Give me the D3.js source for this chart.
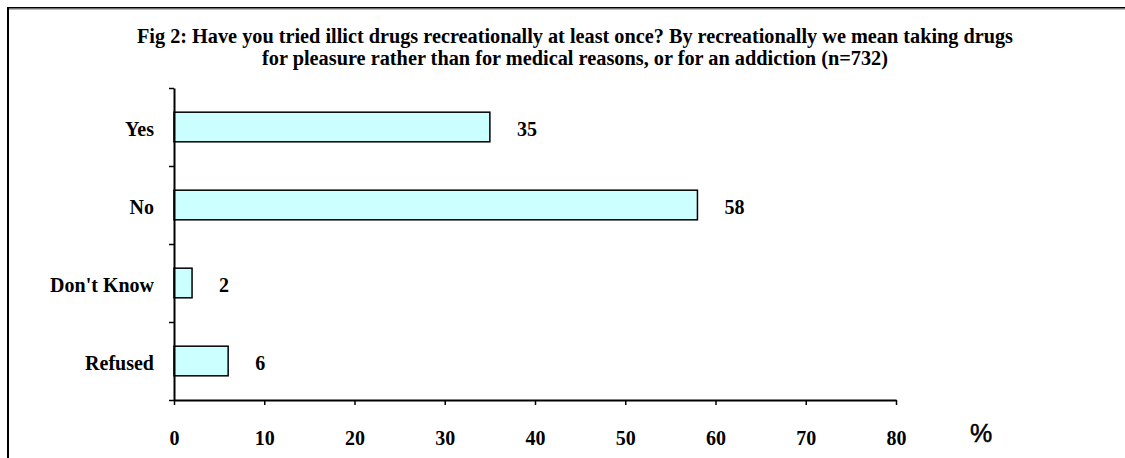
<!DOCTYPE html>
<html>
<head>
<meta charset="utf-8">
<script src="https://cdn.jsdelivr.net/npm/d3@7"></script>
<style>
  html, body { margin: 0; padding: 0; background: #fff; }
  svg { display: block; }
  text { font-family: "Liberation Serif", "Times New Roman", serif; font-weight: bold; fill: #000; }
</style>
</head>
<body>
<svg id="chart" width="1125" height="458"></svg>
<script>
// Survey responses, percent of respondents
const categories = ["Yes", "No", "Don't Know", "Refused"];
const values = [35, 58, 2, 6];
const xTicks = [0, 10, 20, 30, 40, 50, 60, 70, 80];
const titleLines = [
  "Fig 2: Have you tried illict drugs recreationally at least once? By recreationally we mean taking drugs",
  "for pleasure rather than for medical reasons, or for an addiction (n=732)"
];
const unitLabel = "%";

const svg = d3.select("#chart");
const W = 1125, H = 458;

// Frame: top and left rules with a faint shadow under the top edge
svg.append("line").attr("x1", 8).attr("x2", W).attr("y1", 9.2).attr("y2", 9.2)
  .attr("stroke", "#999").attr("stroke-width", 1);
svg.append("line").attr("x1", 8).attr("x2", W).attr("y1", 7.8).attr("y2", 7.8)
  .attr("stroke", "#000").attr("stroke-width", 1.6);
svg.append("line").attr("x1", 8).attr("x2", 8).attr("y1", 7).attr("y2", H)
  .attr("stroke", "#000").attr("stroke-width", 2);

// Title
const titleWidths = [876, 626];
const titleBaselines = [43, 65];
titleLines.forEach((t, i) => {
  svg.append("text")
    .attr("x", 575).attr("y", titleBaselines[i])
    .attr("text-anchor", "middle")
    .attr("font-size", 20)
    .attr("textLength", titleWidths[i])
    .attr("lengthAdjust", "spacingAndGlyphs")
    .text(t);
});

// Plot area
const plot = { left: 174, right: 896, top: 88, bottom: 400 };

const x = d3.scaleLinear().domain([0, 80]).range([plot.left, plot.right]);
const y = d3.scaleBand().domain(categories).range([plot.top, plot.bottom]).padding(0);
const barH = y.bandwidth() * 0.38;

// Bars
svg.append("g").selectAll("rect")
  .data(categories)
  .join("rect")
  .attr("x", x(0))
  .attr("y", d => y(d) + (y.bandwidth() - barH) / 2)
  .attr("width", (d, i) => x(values[i]) - x(0))
  .attr("height", barH)
  .attr("fill", "#CCFFFF")
  .attr("stroke", "#000")
  .attr("stroke-width", 1.5);

// Value labels just past the bar ends
svg.append("g").selectAll("text")
  .data(categories)
  .join("text")
  .attr("x", (d, i) => x(values[i]) + 27)
  .attr("y", d => y(d) + y.bandwidth() / 2 + 8.5)
  .attr("font-size", 20)
  .text((d, i) => values[i]);

// X axis with ticks pointing down
const xAxis = svg.append("g")
  .attr("transform", `translate(0,${plot.bottom})`)
  .call(d3.axisBottom(x).tickValues(xTicks).tickSize(5).tickSizeOuter(0).tickPadding(30));
xAxis.select(".domain").attr("stroke-width", 2);
xAxis.selectAll(".tick line").attr("stroke-width", 1.5);
xAxis.selectAll(".tick text")
  .attr("font-family", "Liberation Serif, Times New Roman, serif")
  .attr("font-weight", "bold")
  .attr("font-size", 20)
  .attr("dy", 0)
  .attr("y", 45);

// Y axis: ticks at band boundaries, labels at band centres
const boundaries = d3.scaleLinear().domain([0, categories.length]).range([plot.top, plot.bottom]);
const yAxis = svg.append("g")
  .attr("transform", `translate(${plot.left},0)`)
  .call(d3.axisLeft(boundaries).tickValues(d3.range(categories.length + 1)).tickSize(5).tickSizeOuter(0).tickFormat(""));
yAxis.select(".domain").attr("stroke-width", 2);
yAxis.selectAll(".tick line").attr("stroke-width", 1.5);

svg.append("g").selectAll("text")
  .data(categories)
  .join("text")
  .attr("x", plot.left - 20)
  .attr("y", d => y(d) + y.bandwidth() / 2 + 9)
  .attr("text-anchor", "end")
  .attr("font-size", 20)
  .text(d => d);

// Unit label
svg.append("text")
  .attr("x", 981).attr("y", 442)
  .attr("text-anchor", "middle")
  .style("font-family", "'Liberation Sans', Arial, sans-serif")
  .style("font-weight", "normal")
  .attr("font-size", 25)
  .attr("stroke", "#000")
  .attr("stroke-width", 0.5)
  .text(unitLabel);
</script>
</body>
</html>
